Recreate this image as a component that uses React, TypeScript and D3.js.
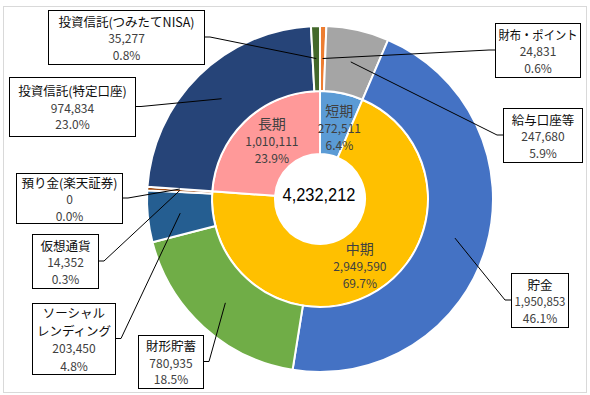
import React, { useEffect, useRef } from 'react'
import * as d3 from 'd3'

// outer ring (breakdown), clockwise from 12 o'clock
const outerNames = [
  '財布・ポイント',
  '給与口座等',
  '貯金',
  '財形貯蓄',
  'ソーシャル\nレンディング',
  '仮想通貨',
  '預り金(楽天証券)',
  '投資信託(特定口座)',
  '投資信託(つみたてNISA)',
]
const outerValues = [24831, 247680, 1950853, 780935, 203450, 14352, 0, 974834, 35277]
const outerColors = ['#ED7D31', '#A5A5A5', '#4472C4', '#70AD47', '#255E91', '#9E480E', '#636363', '#264478', '#43682B']

// inner ring (term)
const innerNames = ['短期', '中期', '長期']
const innerValues = [272511, 2949590, 1010111]
const innerColors = ['#5B9BD5', '#FFC000', '#FF9999']

// callout boxes for the outer labels: x, y, w, h
const calloutBoxes = [
  [495, 23, 85, 54],
  [503, 108, 79, 54],
  [511, 273, 57, 54],
  [138, 335, 65, 53],
  [32, 303, 83, 71],
  [32, 234, 66, 54],
  [16, 173, 106, 50],
  [9, 77, 126, 59],
  [48, 10, 156, 54],
]
// small nudges for the inner labels
const innerNudge = [[4, 3], [0, 1], [4, -3]]

export default function App() {
  const ref = useRef<SVGSVGElement>(null)

  useEffect(() => {
    const svg = d3.select(ref.current)
    svg.selectAll('*').remove()

    const width = 590
    const height = 395
    const cx = 320
    const cy = 199
    const font = '"Noto Sans CJK JP", "Noto Sans", sans-serif'

    const total = d3.sum(innerValues)
    const fmt = d3.format(',')
    const pct = (v: number) => (v / total * 100).toFixed(1) + '%'

    svg.append('rect')
      .attr('x', 3.5).attr('y', 6.5)
      .attr('width', width - 7).attr('height', height - 9)
      .attr('fill', '#fff')
      .attr('stroke', '#d9d9d9')

    const g = svg.append('g').attr('transform', `translate(${cx},${cy})`)

    const pie = d3.pie<number>().sort(null).value(d => d)
    const innerArc = d3.arc<d3.PieArcDatum<number>>().innerRadius(45).outerRadius(108)
    const outerArc = d3.arc<d3.PieArcDatum<number>>().innerRadius(108).outerRadius(173)

    const innerPie = pie(innerValues)
    const outerPie = pie(outerValues)

    g.selectAll('.inner')
      .data(innerPie)
      .enter()
      .append('path')
      .attr('class', 'inner')
      .attr('d', innerArc)
      .attr('fill', (d, i) => innerColors[i])
      .attr('stroke', '#fff')
      .attr('stroke-width', 2)

    g.selectAll('.outer')
      .data(outerPie)
      .enter()
      .append('path')
      .attr('class', 'outer')
      .attr('d', outerArc)
      .attr('fill', (d, i) => outerColors[i])
      .attr('stroke', '#fff')
      .attr('stroke-width', 2)

    // inner labels
    innerPie.forEach((d, i) => {
      const [x, y] = innerArc.centroid(d)
      const px = x + innerNudge[i][0]
      const py = y + innerNudge[i][1]
      const t = g.append('text')
        .attr('text-anchor', 'middle')
        .attr('font-family', font)
        .attr('fill', '#404040')
      t.append('tspan').attr('x', px).attr('y', py - 17).attr('font-size', 14)
        .attr('dominant-baseline', 'central').text(innerNames[i])
      t.append('tspan').attr('x', px).attr('y', py).attr('font-size', 12)
        .attr('dominant-baseline', 'central').text(fmt(innerValues[i]))
      t.append('tspan').attr('x', px).attr('y', py + 17).attr('font-size', 12)
        .attr('dominant-baseline', 'central').text(pct(innerValues[i]))
    })

    // total in the hole
    g.append('text')
      .attr('x', -1).attr('y', -5)
      .attr('text-anchor', 'middle')
      .attr('dominant-baseline', 'central')
      .attr('font-family', '"Liberation Sans", Arial, sans-serif')
      .attr('font-size', 19)
      .attr('textLength', 73)
      .attr('lengthAdjust', 'spacingAndGlyphs')
      .attr('fill', '#000')
      .text(fmt(total))

    // outer callouts: leader lines first, boxes on top
    const lines = svg.append('g')
    const boxes = svg.append('g')

    outerPie.forEach((d, i) => {
      const [bx, by, bw, bh] = calloutBoxes[i]
      const [ax, ay] = outerArc.centroid(d)
      const rightSide = bx > cx
      const ex = rightSide ? bx : bx + bw
      const ey = by + bh / 2
      const elbow = rightSide ? ex - 6 : ex + 6

      lines.append('path')
        .attr('d', d3.line()([[ex, ey], [elbow, ey], [cx + ax, cy + ay]]))
        .attr('fill', 'none')
        .attr('stroke', '#000')
        .attr('stroke-width', 1)

      boxes.append('rect')
        .attr('x', bx + 0.5).attr('y', by + 0.5)
        .attr('width', bw).attr('height', bh)
        .attr('fill', '#fff')
        .attr('stroke', '#000')
        .attr('stroke-width', 1)

      const rows = outerNames[i].split('\n').map(s => ({ s, name: true }))
        .concat([{ s: fmt(outerValues[i]), name: false }, { s: pct(outerValues[i]), name: false }])
      const step = rows.length > 3 ? 17.5 : 16.5
      const top = by + bh / 2 - (rows.length - 1) * step / 2

      rows.forEach((r, k) => {
        const t = boxes.append('text')
          .attr('x', bx + bw / 2 + 0.5)
          .attr('y', top + k * step + 0.5)
          .attr('text-anchor', 'middle')
          .attr('dominant-baseline', 'central')
          .attr('font-family', font)
          .attr('font-size', r.name ? 12.5 : 12)
          .attr('fill', r.name ? '#0d0d0d' : '#404040')
          .text(r.s)
        // squeeze rows that would spill over the box edge
        const node = t.node() as SVGTextElement
        const maxW = bw - 6
        if (node && node.getComputedTextLength() > maxW) {
          t.attr('textLength', maxW).attr('lengthAdjust', 'spacingAndGlyphs')
        }
      })
    })
  }, [])

  return (
    <div style={{ position: 'absolute', left: 0, top: 0 }}>
      <svg ref={ref} width={590} height={395} />
    </div>
  )
}
